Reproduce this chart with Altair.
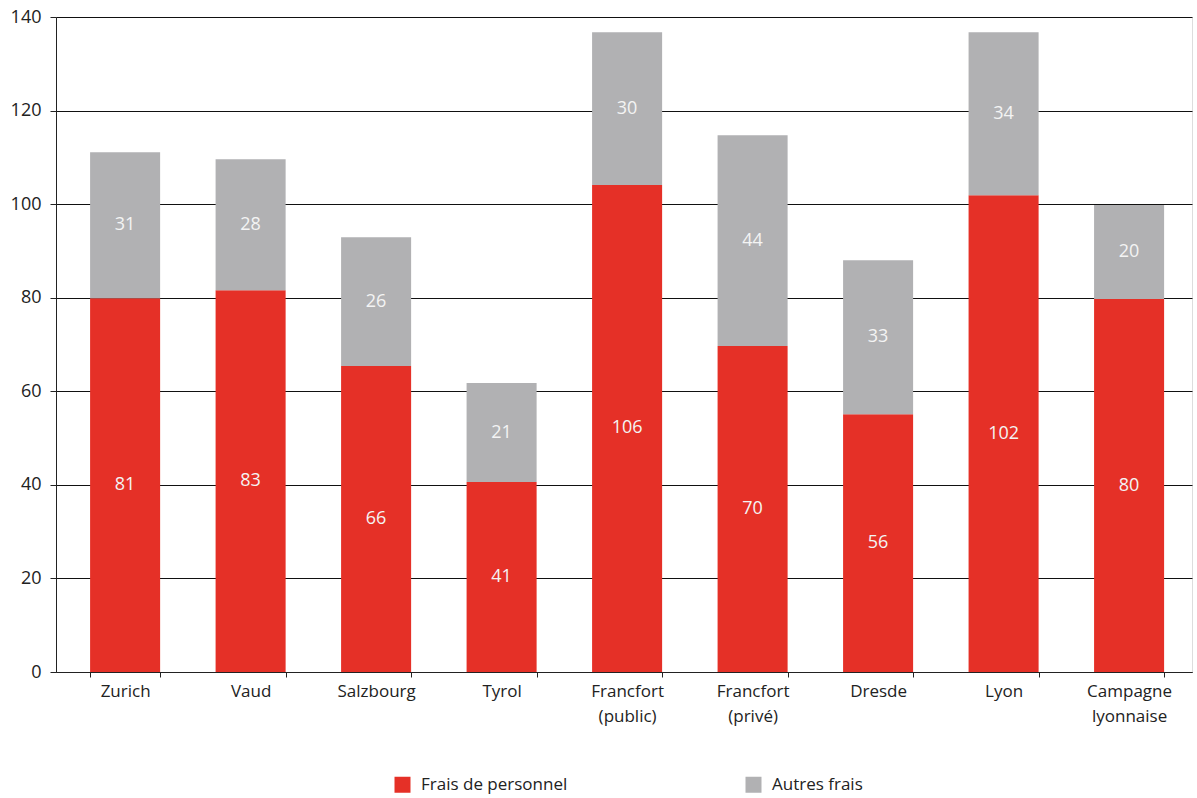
import altair as alt
import pandas as pd

cities = ["Zurich", "Vaud", "Salzbourg", "Tyrol", "Francfort|(public)",
          "Francfort|(privé)", "Dresde", "Lyon", "Campagne|lyonnaise"]
personnel = [79.9, 81.6, 65.4, 40.6, 104.1, 69.7, 55.1, 101.9, 79.7]
autres = [31.2, 28.0, 27.5, 21.15, 32.65, 45.0, 32.9, 34.85, 20.1]
personnel_labels = [81, 83, 66, 41, 106, 70, 56, 102, 80]
autres_labels = [31, 28, 26, 21, 30, 44, 33, 34, 20]

series = ["Frais de personnel", "Autres frais"]
colors = ["#E53027", "#B1B1B3"]

rows = []
for i, c in enumerate(cities):
    rows.append({"city": c, "type": series[0], "ord": 0, "value": personnel[i], "label": personnel_labels[i]})
    rows.append({"city": c, "type": series[1], "ord": 1, "value": autres[i], "label": autres_labels[i]})
df = pd.DataFrame(rows)

FONT = "Open Sans"

base = alt.Chart(df).transform_stack(
    stack="value", groupby=["city"], as_=["y0", "y1"], sort=[alt.SortField("ord", order="ascending")]
).transform_calculate(mid="(datum.y0 + datum.y1) / 2")

xenc = alt.X("city:N", sort=cities, title=None,
             scale=alt.Scale(paddingInner=0.442, paddingOuter=0.247, align=0.55),
             axis=alt.Axis(labelAngle=0, labelExpr="split(datum.label, '|')",
                           labelLineHeight=25, labelFontSize=17, labelColor="#222222",
                           labelPadding=6, tickBand="extent", ticks=True, tickSize=5,
                           tickColor="#222222", domainColor="#222222", domainWidth=1,
                           labelBaseline="top"))

bars = base.mark_bar().encode(
    x=xenc,
    y=alt.Y("y0:Q", title=None,
            scale=alt.Scale(domain=[0, 140], nice=False),
            axis=alt.Axis(values=[0, 20, 40, 60, 80, 100, 120, 140], grid=True,
                          gridColor="#111111", gridWidth=1, tickSize=6, tickColor="#222222",
                          domainColor="#222222", labelFontSize=18, labelColor="#222222",
                          labelPadding=9)),
    y2="y1:Q",
    color=alt.Color("type:N", scale=alt.Scale(domain=series, range=colors),
                    legend=alt.Legend(title=None, orient="none", legendX=338, legendY=759,
                                      direction="horizontal", symbolType="square",
                                      symbolSize=256, symbolStrokeWidth=0, labelFontSize=17,
                                      labelColor="#222222", labelOffset=10,
                                      columnPadding=177, padding=0)),
    order=alt.Order("ord:Q"),
)

texts = base.mark_text(color="#F4F4F4", fontSize=18, font=FONT, baseline="middle").encode(
    x=alt.X("city:N", sort=cities),
    y=alt.Y("mid:Q"),
    text=alt.Text("label:Q"),
)

chart = (bars + texts).properties(
    width=1136, height=655,
    autosize=alt.AutoSizeParams(type="none"),
    padding={"left": 56, "top": 17, "right": 5, "bottom": 126},
).configure_view(stroke=None).configure(font=FONT).configure_axis(labelFont=FONT).configure_legend(labelFont=FONT)

chart.save("out.html", embed_options={"renderer": "svg", "actions": False})
